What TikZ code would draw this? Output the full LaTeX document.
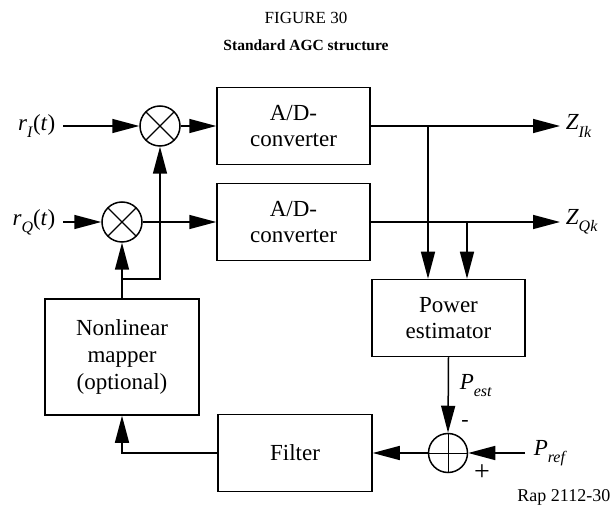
\documentclass[tikz,border=0pt]{standalone}
\usepackage{fontspec}
\setmainfont{Liberation Serif}
\usetikzlibrary{arrows.meta}
\newcommand\mysub[1]{\raisebox{-0.32em}{\fontsize{16}{16}\selectfont\textit{#1}}}
\begin{document}
\begin{tikzpicture}[x=1pt,y=-1pt,line width=1.5pt,
  blk/.style={draw,line width=1.5pt,minimum width=153pt,minimum height=77pt,align=center,
    font=\fontsize{23}{26}\selectfont,inner sep=0pt},
  mixer/.style={draw,circle,minimum size=40pt,inner sep=0pt,
    path picture={\draw[line width=1.3pt]
      (path picture bounding box.north west)--(path picture bounding box.south east)
      (path picture bounding box.north east)--(path picture bounding box.south west);}},
  adder/.style={draw,circle,minimum size=39pt,inner sep=0pt,
    path picture={\draw[line width=1pt]
      (path picture bounding box.north)--(path picture bounding box.south)
      (path picture bounding box.west)--(path picture bounding box.east);}},
  arr/.style={-{Triangle[length=27pt,width=14pt]}},
  lbl/.style={font=\fontsize{23}{26}\selectfont,inner ysep=0pt}]
\useasboundingbox (0,0) rectangle (613,510);
% titles
\node[font=\fontsize{17}{20}\selectfont] (t1) at (306,18) {FIGURE 30};
\node[font=\fontsize{15.5}{18}\selectfont\bfseries] (t2) at (306,45) {Standard AGC structure};
% blocks
\node[blk] (adc1) at (293.5,126) {A/D-\\converter};
\node[blk] (adc2) at (293.5,222) {A/D-\\converter};
\node[blk] (power) at (448.5,318) {Power\\estimator};
\node[blk,minimum width=154pt,minimum height=116pt,font=\fontsize{23}{27}\selectfont] (mapper) at (122,357) {Nonlinear\\mapper\\(optional)};
\node[blk,minimum width=154pt] (filter) at (295,453) {Filter};
\node[mixer] (mix1) at (160,126) {};
\node[mixer] (mix2) at (122,222) {};
\node[adder] (sum) at (448,453) {};
% labels
\node[lbl,anchor=east,inner xsep=7pt] (rI) at (63,126) {\textit{r}\mysub{I}(\textit{t})};
\node[lbl,anchor=east,inner xsep=7pt] (rQ) at (63,222) {\textit{r}\mysub{Q}(\textit{t})};
\node[lbl,anchor=west,inner xsep=5pt] (ZI) at (560,126) {\textit{Z}\mysub{Ik}};
\node[lbl,anchor=west,inner xsep=5pt] (ZQ) at (560,222) {\textit{Z}\mysub{Qk}};
\node[lbl,anchor=west,inner xsep=8pt] (Pref) at (525,453) {\textit{P}\mysub{ref}};
\node[lbl,anchor=base west,inner sep=0pt] (Pest) at (459,389) {\textit{P}\mysub{est}};
\node[font=\fontsize{22}{22}\selectfont,inner sep=0pt] (minus) at (465,423) {-};
\node[font=\fontsize{28}{28}\selectfont,inner sep=0pt] (plus) at (482,473) {+};
\node[font=\fontsize{18}{20}\selectfont,anchor=east,inner sep=0pt] (rap) at (611,497) {Rap 2112-30};
% junctions
\coordinate (j1) at (428,126);
\coordinate (j2) at (467,222);
\coordinate (j3) at (122,279);
% connectors
\draw[arr] (rI.east) -- (mix1.west);
\draw[arr] (mix1.east) -- (adc1.west);
\draw[arr] (rQ.east) -- (mix2.west);
\draw[arr] (mix2.east) -- (adc2.west);
\draw[arr] (adc1.east) -- (ZI.west);
\draw[arr] (adc2.east) -- (ZQ.west);
\draw[arr] (j1) -- (j1 |- power.north);
\draw[arr] (j2) -- (j2 |- power.north);
\draw[arr] (power.south) -- (sum.north);
\draw[arr] (Pref.west) -- (sum.east);
\draw[arr] (sum.west) -- (filter.east);
\draw[arr] (filter.west) -| (mapper.south);
\draw[arr] (mapper.north) -- (mix2.south);
\draw[arr] (j3) -| (mix1.south);
\end{tikzpicture}
\end{document}
